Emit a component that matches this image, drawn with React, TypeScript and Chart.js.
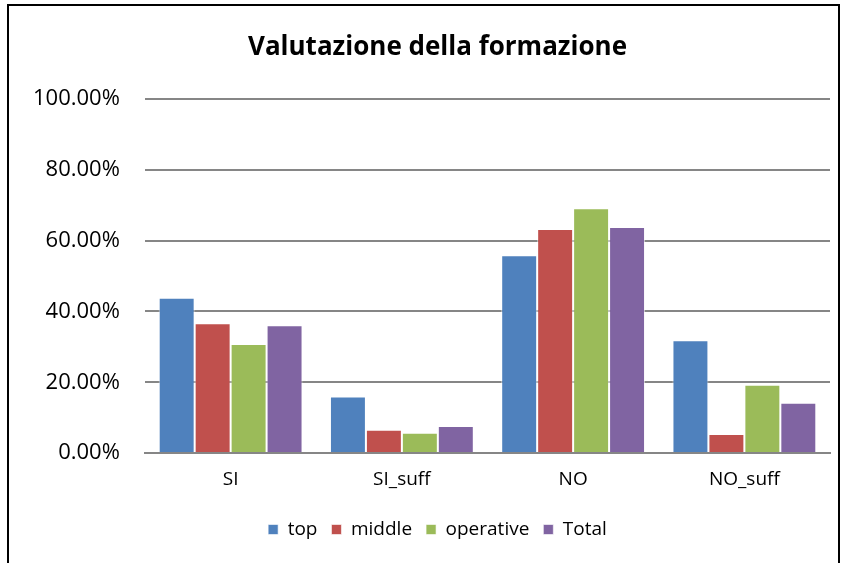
import React, { useEffect, useRef } from "react";
import { Chart, registerables } from "chart.js";

Chart.register(...registerables);

const categories = ["SI", "SI_suff", "NO", "NO_suff"];
const topValues = [0.439, 0.16, 0.559, 0.319];
const middleValues = [0.367, 0.066, 0.633, 0.054];
const operativeValues = [0.308, 0.057, 0.692, 0.193];
const totalValues = [0.361, 0.076, 0.639, 0.142];
const seriesNames = ["top", "middle", "operative", "Total"];
const seriesColors = ["#4F81BD", "#C0504D", "#9BBB59", "#8064A2"];
const titleText = "Valutazione della formazione";

const FONT = "'Open Sans', sans-serif";

export default function App() {
  const ref = useRef<HTMLCanvasElement | null>(null);
  useEffect(() => {
    if (!ref.current) return;
    const values = [topValues, middleValues, operativeValues, totalValues];
    const chart = new Chart(ref.current, {
      type: "bar",
      data: {
        labels: categories,
        datasets: seriesNames.map((n, i) => ({
          label: n,
          data: values[i],
          backgroundColor: seriesColors[i],
          borderColor: "rgba(255,255,255,0.6)",
          borderWidth: 1,
          categoryPercentage: 0.84,
          barPercentage: 1,
        })),
      },
      options: {
        animation: false,
        responsive: false,
        maintainAspectRatio: false,
        layout: { padding: { left: 36, right: 8, top: 0, bottom: 14 } },
        plugins: {
          title: {
            display: true,
            text: titleText,
            color: "#000",
            font: { family: FONT, size: 26, weight: "bold" },
            padding: { top: 26, bottom: 36 },
          },
          legend: {
            position: "bottom",
            labels: {
              color: "#000",
              font: { family: FONT, size: 19 },
              boxWidth: 10,
              boxHeight: 10,
              padding: 14,
            },
          },
          tooltip: { enabled: false },
        },
        scales: {
          x: {
            afterFit: (s: any) => {
              s.height = 53;
            },
            grid: { display: false, drawTicks: false },
            border: { display: true, color: "#868686", width: 2 },
            ticks: { color: "#000", font: { family: FONT, size: 19 }, padding: 15 },
          },
          y: {
            min: 0,
            max: 1,
            afterFit: (s: any) => {
              s.width = 100;
            },
            border: { display: false },
            grid: { color: "#868686", lineWidth: 2, drawTicks: false },
            ticks: {
              stepSize: 0.2,
              color: "#000",
              mirror: true,
              crossAlign: "far",
              padding: -112,
              font: { family: FONT, size: 22 },
              callback: (v: any) => (Number(v) * 100).toFixed(2) + "%",
            },
          },
        },
      },
    });
    return () => chart.destroy();
  }, []);
  return (
    <div
      style={{
        position: "absolute",
        left: 7,
        top: 4,
        width: 829,
        height: 570,
        border: "2px solid #000",
        background: "#fff",
      }}
    >
      <canvas ref={ref} width={829} height={557} style={{ display: "block" }} />
    </div>
  );
}
